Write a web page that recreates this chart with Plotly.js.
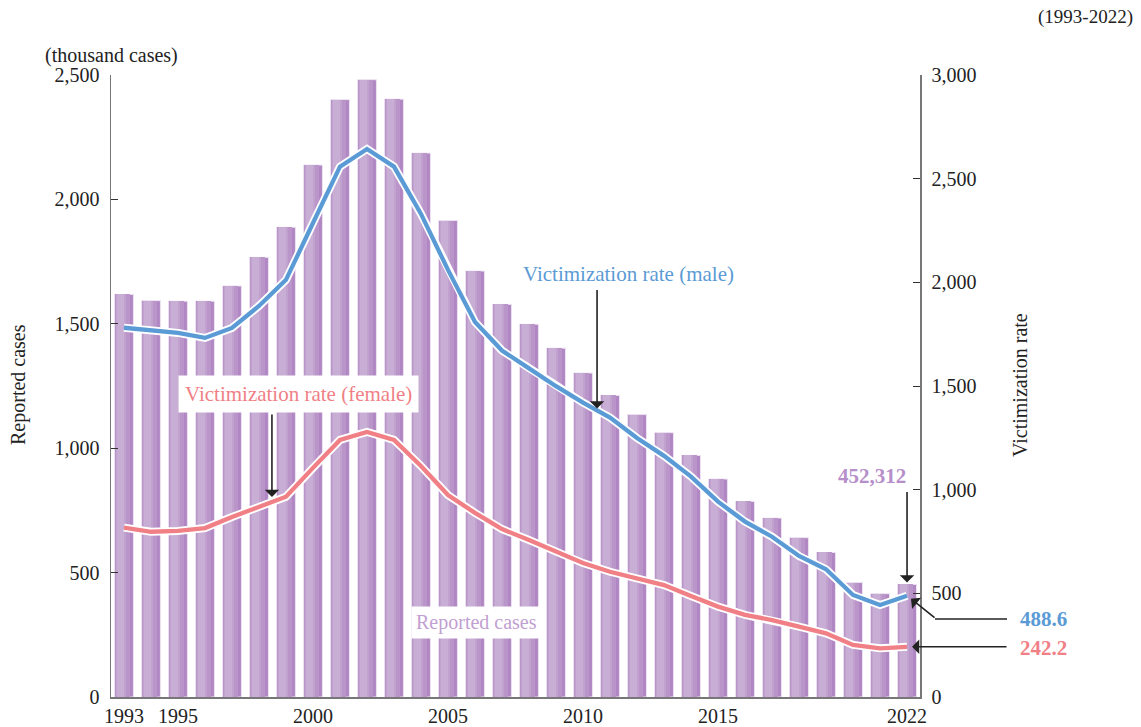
<!DOCTYPE html>
<html>
<head>
<meta charset="utf-8">
<script src="https://cdn.plot.ly/plotly-3.0.1.min.js"></script>
<style>
html,body{margin:0;padding:0;background:#fff;}
#chart{width:1141px;height:727px;}
</style>
</head>
<body>
<div id="chart"></div>
<script>
// ---- data ----
const years = [1993,1994,1995,1996,1997,1998,1999,2000,2001,2002,2003,2004,2005,2006,2007,2008,2009,2010,2011,2012,2013,2014,2015,2016,2017,2018,2019,2020,2021,2022];
// reported cases (thousand cases)
const reported = [1618,1593,1591,1591,1652,1767,1888,2138,2401,2481,2403,2186,1915,1712,1578,1498,1402,1302,1212,1135,1062,971,876,786,719,640,581,460,415,452.312];
// victimization rate
const maleRate = [1781,1767,1756,1732,1780,1886,2012,2286,2558,2643,2558,2330,2060,1809,1671,1585,1499,1420,1348,1249,1163,1063,942,846,773,680,616,492,444,488.6];
const femaleRate = [817,797,801,815,868,918,966,1105,1240,1278,1240,1114,974,888,810,757,701,646,604,573,540,487,436,396,371,339,307,251,235,242.2];
const xTickVals = [1993,1995,2000,2005,2010,2015,2022];
const xTickText = ['1993','1995','2000','2005','2010','2015','2022'];
const leftTicks = [0,500,1000,1500,2000,2500];
const rightTicks = [0,500,1000,1500,2000,2500,3000];

const SERIF = '"Liberation Serif", "Times New Roman", serif';
const BLUE = '#5b9bd5';
const PINK = '#f07f86';
const PURPLE_TXT = '#b68fca';
const TXT = '#222';

// bar layers to imitate the horizontal gradient of the bars
const barLayers = [
  {offset:-0.35, width:0.70, color:'#b086c3', line:{color:'#ece2f1', width:1}},
  {offset:-0.335, width:0.54, color:'#b995c9', line:{width:0}},
  {offset:-0.30, width:0.38, color:'#c1a2cf', line:{width:0}},
  {offset:-0.25, width:0.24, color:'#c8add5', line:{width:0}}
];
const traces = barLayers.map(l => ({
  type:'bar', x:years, y:reported, yaxis:'y',
  offset:l.offset, width:l.width,
  marker:{color:l.color, line:l.line},
  hoverinfo:'skip', showlegend:false
}));

function lineTraces(vals, color){
  return [
    {type:'scatter', mode:'lines', x:years, y:vals, yaxis:'y2',
     line:{color:'#ffffff', width:8}, hoverinfo:'skip', showlegend:false},
    {type:'scatter', mode:'lines', x:years, y:vals, yaxis:'y2',
     line:{color:color, width:4.3}, showlegend:false}
  ];
}
traces.push(...lineTraces(maleRate, BLUE));
traces.push(...lineTraces(femaleRate, PINK));

const L = 111, R = 920, T = 75, B = 697;
const px = x => (x - L)/(R - L);
const py = y => (B - y)/(B - T);

function label(x, y, text, size, color, extra){
  return Object.assign({xref:'paper', yref:'paper', x:px(x), y:py(y), text:text, showarrow:false,
    xanchor:'center', yanchor:'middle', font:{family:SERIF, size:size, color:color}}, extra || {});
}
function arrow(xv, yv, yref, ax, ay, standoff){
  return {xref:'x', yref:yref, x:xv, y:yv, ax:ax, ay:ay, axref:'pixel', ayref:'pixel', text:'',
    showarrow:true, arrowhead:1, arrowsize:1.5, arrowwidth:1.6, arrowcolor:TXT, standoff:standoff || 0};
}

const annotations = [
  label(1085, 17, '(1993-2022)', 19, TXT),
  label(111, 55, '(thousand cases)', 20, TXT),
  label(18, 385, 'Reported cases', 20, TXT, {textangle:-90}),
  label(1020, 385, 'Victimization rate', 20, TXT, {textangle:-90}),
  // male
  label(628, 274, 'Victimization rate (male)', 21, BLUE),
  arrow(2010.52, 1392, 'y2', 0, -120, 0),
  // female
  label(298, 394, 'Victimization rate (female)', 21, PINK, {bgcolor:'#ffffff', borderpad:6}),
  arrow(1998.48, 965, 'y2', 0, -84, 0),
  // reported cases
  label(476, 622, 'Reported cases', 20, '#c29fd2', {bgcolor:'#ffffff', borderpad:4}),
  // 452,312
  label(872, 476, '<b>452,312</b>', 21, PURPLE_TXT),
  arrow(2022, reported[reported.length-1], 'y', 0, -94, 2),
  // 488.6
  label(1043, 619, '<b>488.6</b>', 21, BLUE),
  arrow(2022, maleRate[maleRate.length-1], 'y2', 29, 23, 5),
  // 242.2
  label(1043, 648, '<b>242.2</b>', 21, PINK),
  arrow(2022, femaleRate[femaleRate.length-1], 'y2', 101, 0, 5)
];

const shapes = [
  {type:'line', xref:'paper', yref:'paper', x0:px(935), x1:px(1007), y0:py(619), y1:py(619),
   line:{color:TXT, width:1.6}}
];

const layout = {
  width:1141, height:727,
  margin:{l:L, r:1141-R, t:T, b:727-B, pad:0},
  paper_bgcolor:'#ffffff', plot_bgcolor:'#ffffff',
  barmode:'overlay', bargap:0,
  font:{family:SERIF, size:20, color:TXT},
  xaxis:{range:[1992.52, 2022.48], tickvals:xTickVals, ticktext:xTickText, ticks:'',
         showgrid:false, zeroline:false, showline:true, linecolor:'#777', linewidth:1.5,
         tickfont:{family:SERIF, size:20, color:TXT}, fixedrange:true},
  yaxis:{range:[0,2500], tickvals:leftTicks, tickformat:',', ticks:'inside', ticklen:7, tickcolor:'#333',
         showgrid:false, zeroline:false, showline:true, linecolor:'#777', linewidth:1.5,
         ticklabelstandoff:6, tickfont:{family:SERIF, size:20, color:TXT}, fixedrange:true},
  yaxis2:{range:[0,3000], tickvals:rightTicks, tickformat:',', ticks:'inside', ticklen:7, tickcolor:'#333',
          overlaying:'y', side:'right', showgrid:false, zeroline:false, showline:true, linecolor:'#777', linewidth:1.5,
          ticklabelstandoff:6, tickfont:{family:SERIF, size:20, color:TXT}, fixedrange:true},
  annotations:annotations, shapes:shapes, showlegend:false
};

Plotly.newPlot('chart', traces, layout, {displayModeBar:false, staticPlot:true});
</script>
</body>
</html>
